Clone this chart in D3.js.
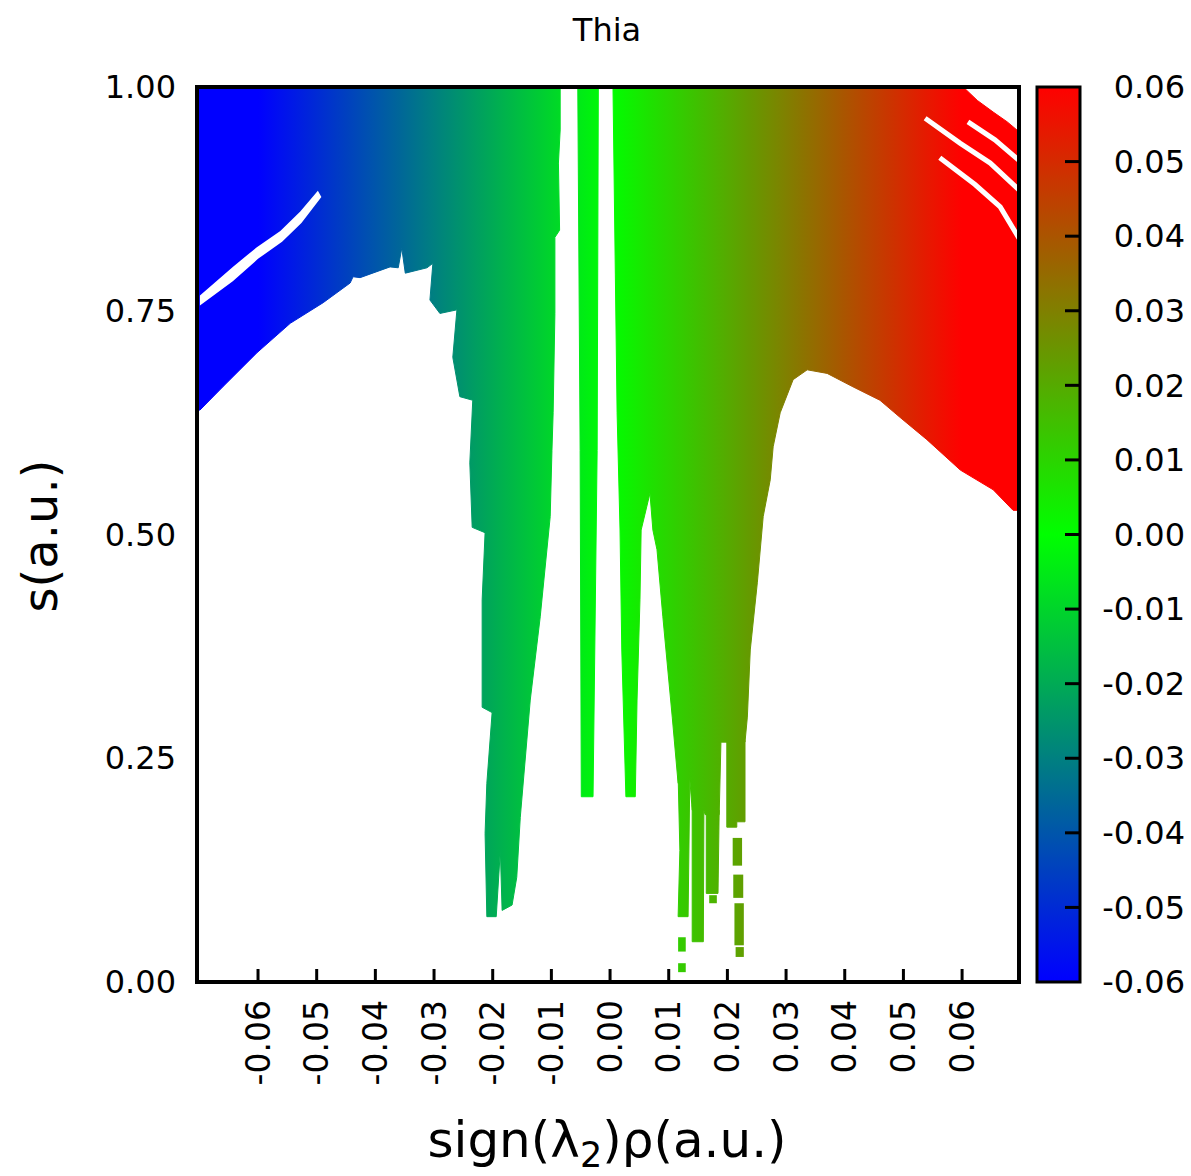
<!DOCTYPE html>
<html><head><meta charset="utf-8">
<script src="https://cdn.jsdelivr.net/npm/d3@7"></script>
<style>body{margin:0;background:#fff}svg{display:block}</style>
</head><body>
<script>
// ---------- data ----------
const chartTitle = "Thia";
const xTicks = [-0.06,-0.05,-0.04,-0.03,-0.02,-0.01,0.00,0.01,0.02,0.03,0.04,0.05,0.06];
const yTicks = [0,0.25,0.5,0.75,1];
const cbTicks = [-0.06,-0.05,-0.04,-0.03,-0.02,-0.01,0.00,0.01,0.02,0.03,0.04,0.05,0.06];

// point-cloud outlines: [sign(l2)rho, s]
const regionLeft = [[-0.0704,1.000],[-0.0085,1.000],[-0.0085,0.952],[-0.0088,0.915],[-0.0086,0.840],[-0.0094,0.832],
  [-0.0094,0.747],[-0.0097,0.636],[-0.0099,0.594],[-0.0102,0.520],[-0.0119,0.408],[-0.0136,0.315],[-0.0153,0.184],
  [-0.0159,0.117],[-0.0167,0.086],[-0.0184,0.080],[-0.0187,0.147],[-0.0194,0.073],[-0.0210,0.073],[-0.0213,0.166],
  [-0.0210,0.222],[-0.0201,0.301],[-0.0218,0.307],[-0.0218,0.427],[-0.0213,0.502],[-0.0235,0.508],[-0.0239,0.580],
  [-0.0234,0.650],[-0.0256,0.654],[-0.0268,0.698],[-0.0261,0.751],[-0.0290,0.747],[-0.0307,0.762],[-0.0302,0.803],
  [-0.0312,0.798],[-0.0349,0.792],[-0.0355,0.820],[-0.0361,0.798],[-0.0375,0.799],[-0.0426,0.787],[-0.0438,0.788],
  [-0.0443,0.781],[-0.0489,0.759],[-0.0545,0.736],[-0.0602,0.703],[-0.0660,0.665],[-0.0699,0.639],[-0.0704,0.639]];
const gapLeft = [[-0.0699,0.767],[-0.0643,0.799],[-0.0602,0.821],[-0.0562,0.839],[-0.0528,0.861],[-0.0498,0.884],
  [-0.0492,0.877],[-0.0526,0.848],[-0.0559,0.827],[-0.0600,0.808],[-0.0643,0.783],[-0.0699,0.756]];
const stripeCenter = [[-0.0055,1.0],[-0.0020,1.0],[-0.0022,0.594],[-0.0029,0.207],[-0.0049,0.207],[-0.0051,0.594]];
const regionRight = [[0.0005,1.0],[0.0602,1.0],[0.0626,0.985],[0.0653,0.972],[0.0677,0.961],[0.0697,0.950],
  [0.0697,0.527],[0.0687,0.527],[0.0653,0.550],[0.0597,0.572],[0.0540,0.606],[0.0494,0.631],[0.0460,0.650],
  [0.0414,0.665],[0.0370,0.680],[0.0336,0.684],[0.0312,0.673],[0.0290,0.636],[0.0278,0.598],[0.0273,0.561],
  [0.0261,0.520],[0.0251,0.446],[0.0239,0.371],[0.0234,0.296],[0.0230,0.268],[0.0189,0.268],[0.0186,0.187],
  [0.0162,0.187],[0.0160,0.192],[0.0140,0.192],[0.0136,0.226],[0.0116,0.222],[0.0106,0.296],[0.0090,0.408],
  [0.0080,0.483],[0.0073,0.505],[0.0068,0.546],[0.0053,0.505],[0.0051,0.427],[0.0046,0.315],[0.0043,0.207],
  [0.0027,0.207],[0.0020,0.371],[0.0017,0.505],[0.0012,0.636],[0.0009,0.791]];
const spikeA = [[0.0116,0.231],[0.0136,0.231],[0.0133,0.073],[0.0116,0.073],[0.0119,0.147]];
const spikeB = [[0.0140,0.198],[0.0160,0.198],[0.0159,0.045],[0.0140,0.045]];
const spikeC = [[0.0164,0.192],[0.0186,0.192],[0.0184,0.099],[0.0164,0.099]];
const spikeD = [[0.0199,0.270],[0.0230,0.270],[0.0230,0.179],[0.0216,0.179],[0.0216,0.173],[0.0199,0.173]];
// isolated blocks: [x0, x1, sTop, sBottom]
const blocks = [[0.0116,0.0129,0.050,0.034],[0.0116,0.0129,0.021,0.011],[0.0169,0.0182,0.097,0.088],
  [0.0209,0.0225,0.161,0.130],[0.0210,0.0227,0.120,0.094],[0.0212,0.0228,0.088,0.041],[0.0214,0.0228,0.039,0.028]];
// empty streaks in upper right
const gapStreaks = [
  [[0.0537,0.965],[0.0597,0.937],[0.0648,0.915],[0.0697,0.885]],
  [[0.0562,0.921],[0.0622,0.891],[0.0665,0.866],[0.0697,0.831]],
  [[0.0610,0.961],[0.0656,0.941],[0.0697,0.918]]];

// ---------- drawing ----------
const W = 1191, H = 1176;
const FONT = "'DejaVu Sans', sans-serif";
const fmt = d => (Math.abs(d) < 1e-9 ? 0 : d).toFixed(2);
const svg = d3.select("body").append("svg").attr("width", W).attr("height", H);
const x = d3.scaleLinear().domain([-0.0704, 0.0697]).range([197, 1019]);
const y = d3.scaleLinear().domain([0, 1]).range([982, 87]);
const color = d3.scaleLinear().domain([-0.06, 0, 0.06]).range(["#0000ff", "#00ff00", "#ff0000"]);
const cb = d3.scaleLinear().domain([-0.06, 0.06]).range([982, 87]);

const defs = svg.append("defs");
const stops = d3.range(0, 1.0001, 0.05);
const gx = defs.append("linearGradient").attr("id", "gx").attr("gradientUnits", "userSpaceOnUse")
  .attr("x1", x(-0.06)).attr("x2", x(0.06)).attr("y1", 0).attr("y2", 0);
gx.selectAll("stop").data(stops).join("stop").attr("offset", d => d)
  .attr("stop-color", d => color(-0.06 + 0.12 * d));
const gy = defs.append("linearGradient").attr("id", "gy").attr("gradientUnits", "userSpaceOnUse")
  .attr("x1", 0).attr("x2", 0).attr("y1", cb(-0.06)).attr("y2", cb(0.06));
gy.selectAll("stop").data(stops).join("stop").attr("offset", d => d)
  .attr("stop-color", d => color(-0.06 + 0.12 * d));
defs.append("clipPath").attr("id", "clip").append("rect")
  .attr("x", x.range()[0]).attr("y", y(1)).attr("width", x.range()[1] - x.range()[0]).attr("height", y(0) - y(1));

const line = d3.line().x(d => x(d[0])).y(d => y(d[1]));
const plot = svg.append("g").attr("clip-path", "url(#clip)");
const shapes = [regionLeft, stripeCenter, regionRight, spikeA, spikeB, spikeC, spikeD];
plot.selectAll("path.cloud").data(shapes).join("path").attr("class", "cloud")
  .attr("d", d => line(d) + "Z").attr("fill", "url(#gx)").attr("stroke", "url(#gx)").attr("stroke-width", 1);
plot.selectAll("rect.blk").data(blocks).join("rect").attr("class", "blk")
  .attr("x", d => x(d[0])).attr("width", d => x(d[1]) - x(d[0]))
  .attr("y", d => y(d[2])).attr("height", d => y(d[3]) - y(d[2])).attr("fill", "url(#gx)");
plot.append("path").attr("d", line(gapLeft) + "Z").attr("fill", "#fff");
plot.selectAll("path.streak").data(gapStreaks).join("path").attr("class", "streak")
  .attr("d", d => line(d)).attr("fill", "none").attr("stroke", "#fff").attr("stroke-width", 5);

// frame
svg.append("rect").attr("x", x.range()[0]).attr("y", y(1)).attr("width", x.range()[1] - x.range()[0])
  .attr("height", y(0) - y(1)).attr("fill", "none").attr("stroke", "#000").attr("stroke-width", 4);
// x ticks
svg.selectAll("line.xt").data(xTicks).join("line").attr("class", "xt")
  .attr("x1", d => x(d)).attr("x2", d => x(d)).attr("y1", y(0)).attr("y2", y(0) - 13)
  .attr("stroke", "#000").attr("stroke-width", 3);
svg.selectAll("text.xl").data(xTicks).join("text").attr("class", "xl")
  .attr("transform", d => `translate(${x(d)},${y(0) + 18}) rotate(-90)`)
  .attr("text-anchor", "end").attr("dy", "0.35em").attr("font-family", FONT).attr("font-size", 33)
  .text(fmt);
// y labels
svg.selectAll("text.yl").data(yTicks).join("text").attr("class", "yl")
  .attr("x", 176).attr("y", d => y(d)).attr("dy", "0.35em").attr("text-anchor", "end")
  .attr("font-family", FONT).attr("font-size", 32).text(fmt);

// colorbar
svg.append("rect").attr("x", 1037).attr("y", cb(0.06)).attr("width", 43).attr("height", cb(-0.06) - cb(0.06))
  .attr("fill", "url(#gy)").attr("stroke", "#000").attr("stroke-width", 3);
svg.selectAll("line.ct").data(cbTicks.slice(1, -1)).join("line").attr("class", "ct")
  .attr("x1", 1065).attr("x2", 1080).attr("y1", d => cb(d)).attr("y2", d => cb(d))
  .attr("stroke", "#000").attr("stroke-width", 3);
svg.selectAll("text.cl").data(cbTicks).join("text").attr("class", "cl")
  .attr("x", 1185).attr("y", d => cb(d)).attr("dy", "0.35em").attr("text-anchor", "end")
  .attr("font-family", FONT).attr("font-size", 32).text(fmt);

// titles
svg.append("text").attr("x", 607).attr("y", 41).attr("text-anchor", "middle")
  .attr("font-family", FONT).attr("font-size", 32).text(chartTitle);
svg.append("text").attr("transform", "translate(57,536) rotate(-90)").attr("text-anchor", "middle")
  .attr("font-family", FONT).attr("font-size", 48).text("s(a.u.)");
const xt = svg.append("text").attr("x", 607).attr("y", 1157).attr("text-anchor", "middle")
  .attr("font-family", FONT).attr("font-size", 50);
xt.append("tspan").text("sign(λ");
xt.append("tspan").attr("font-size", 35).attr("dy", 10).text("2");
xt.append("tspan").attr("dy", -10).text(")ρ(a.u.)");
</script>
</body></html>
